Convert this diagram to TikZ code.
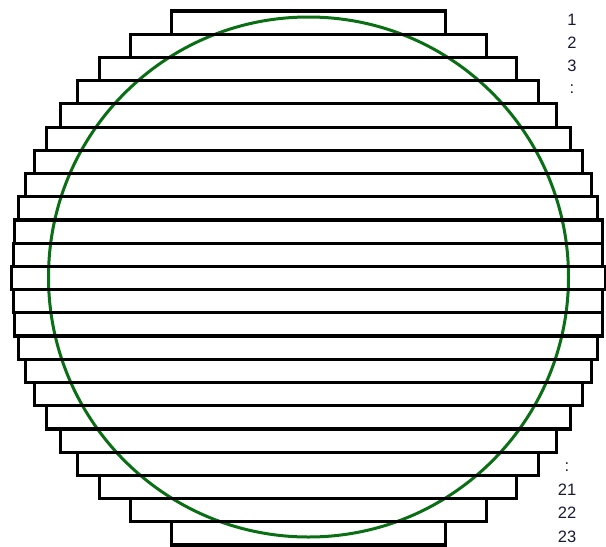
\documentclass[tikz,border=0pt]{standalone}
\usepackage{fontspec}
\setmainfont{Liberation Sans}
\definecolor{ringgreen}{RGB}{10,110,20}
\definecolor{labelink}{RGB}{25,25,55}
\begin{document}
\begin{tikzpicture}[x=1pt,y=-1pt,
  strip/.style={draw=black,line width=3.2pt},
  ring/.style={draw=ringgreen,line width=3pt},
  lbl/.style={font=\fontsize{16.5}{19}\selectfont,text=labelink,inner sep=0pt,anchor=center}]
\useasboundingbox (0,0) rectangle (606,547);
\draw[ring] (308.5,277) circle[radius=260];
\foreach \i/\h in {1/137,2/178,3/208.5,4/230.5,5/248,6/262,7/274,8/283,9/289.5,10/294,11/294.5,12/297,
  13/294.5,14/294,15/289.5,16/283,17/274,18/262,19/248,20/230.5,21/208.5,22/178,23/137}{
  \draw[strip] ({308.3-\h},{11+(\i-1)*23.22}) rectangle ({308.3+\h},{11+\i*23.22});
}
\node[lbl] (l1) at (572,20) {1};
\node[lbl] (l2) at (572,43) {2};
\node[lbl] (l3) at (572,66) {3};
\node[lbl] (ldA) at (572,89) {:};
\node[lbl] (ldB) at (567,467) {:};
\node[lbl] (l21) at (567,490) {21};
\node[lbl] (l22) at (567,513) {22};
\node[lbl] (l23) at (567,537) {23};
\end{tikzpicture}
\end{document}
